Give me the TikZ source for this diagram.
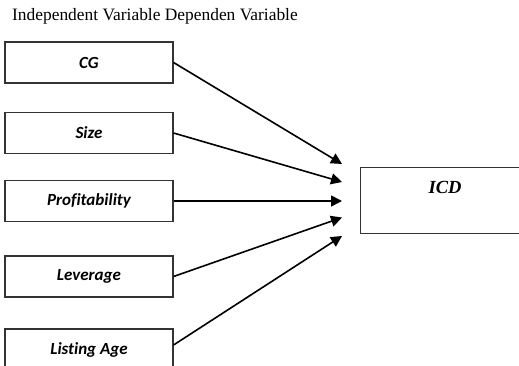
\documentclass[tikz,border=0pt]{standalone}
\usepackage{fontspec}
\setmainfont{Liberation Serif}
\newfontfamily\boxfont[Ligatures=NoCommon]{Carlito}
\usetikzlibrary{arrows.meta}
\begin{document}
\begin{tikzpicture}[x=1pt,y=-1pt,
  varbox/.style={draw=black!80,line width=1.1pt,minimum width=168pt,minimum height=41pt,inner sep=0pt,
    font=\boxfont\bfseries\itshape\fontsize{17}{19}\selectfont},
  conn/.style={line width=1.6pt,-{Triangle[length=11pt,width=11pt]}}]
\useasboundingbox (0,0) rectangle (519,366);
\clip (0,0) rectangle (519,366);
\node[anchor=base west,inner sep=0pt,font=\fontsize{17.4}{19}\selectfont] (title) at (12,21) {Independent Variable Dependen Variable};
\node[varbox] (cg) at (89,62.5) {CG};
\node[varbox] (size) at (89,133) {Size};
\node[varbox] (prof) at (89,201) {Profitability};
\node[varbox] (lev) at (89,276.5) {Leverage};
\node[varbox] (age) at (89,349.5) {Listing Age};
\node[draw=black!80,line width=1.1pt,minimum width=170pt,minimum height=66pt,anchor=north west] (icd) at (360,167) {};
\node[font=\bfseries\itshape\fontsize{18.5}{20}\selectfont] (icdt) at (445,187) {ICD};
\coordinate (t1) at (342,164);
\coordinate (t2) at (342,182);
\coordinate (t3) at (342,201);
\coordinate (t4) at (342,217.5);
\coordinate (t5) at (342,236);
\draw[conn] (cg.east) -- (t1);
\draw[conn] (size.east) -- (t2);
\draw[conn] (prof.east) -- (t3);
\draw[conn] (lev.east) -- (t4);
\draw[conn] (age.east |- 0,345) -- (t5);
\end{tikzpicture}
\end{document}
